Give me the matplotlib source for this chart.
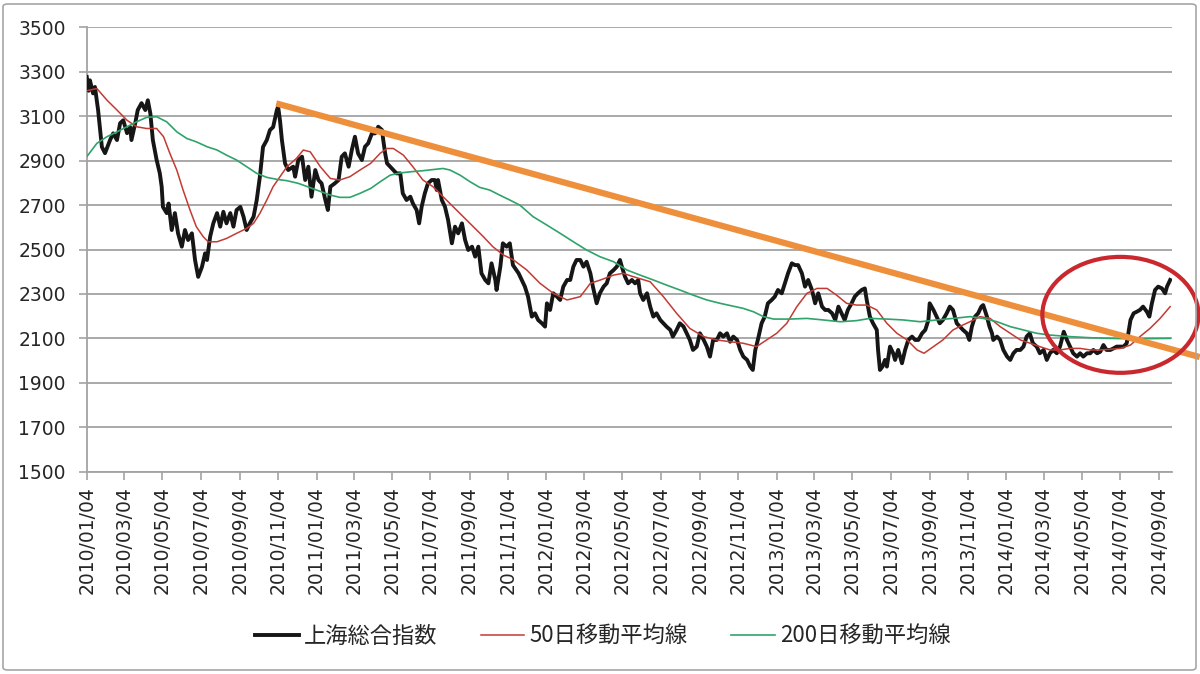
import matplotlib
matplotlib.use("Agg")
import matplotlib.pyplot as plt
import matplotlib.dates as mdates
from matplotlib.patches import Ellipse, FancyBboxPatch
from matplotlib.font_manager import FontProperties
import pandas as pd

# 上海総合指数 (読み取り値)
index_dates = [
    "2010-01-04", "2010-01-07", "2010-01-09", "2010-01-14", "2010-01-17", "2010-01-22", "2010-01-28",
    "2010-02-02", "2010-02-10", "2010-02-15", "2010-02-21", "2010-02-26", "2010-03-03", "2010-03-09",
    "2010-03-14", "2010-03-16", "2010-03-22", "2010-03-26", "2010-04-01", "2010-04-07", "2010-04-11",
    "2010-04-15", "2010-04-19", "2010-04-25", "2010-04-30", "2010-05-03", "2010-05-05", "2010-05-11",
    "2010-05-14", "2010-05-19", "2010-05-24", "2010-05-29", "2010-06-04", "2010-06-09", "2010-06-14",
    "2010-06-20", "2010-06-25", "2010-06-30", "2010-07-06", "2010-07-11", "2010-07-14", "2010-07-19",
    "2010-07-24", "2010-07-30", "2010-08-04", "2010-08-09", "2010-08-14", "2010-08-20", "2010-08-25",
    "2010-08-30", "2010-09-05", "2010-09-10", "2010-09-15", "2010-09-20", "2010-09-26", "2010-10-01",
    "2010-10-06", "2010-10-11", "2010-10-17", "2010-10-22", "2010-10-27", "2010-11-02", "2010-11-04",
    "2010-11-07", "2010-11-10", "2010-11-15", "2010-11-20", "2010-11-28", "2010-12-01", "2010-12-06",
    "2010-12-12", "2010-12-17", "2010-12-22", "2010-12-27",
    "2011-01-02", "2011-01-07", "2011-01-12", "2011-01-18", "2011-01-22", "2011-01-26", "2011-02-02",
    "2011-02-08", "2011-02-13", "2011-02-18", "2011-02-24", "2011-03-01", "2011-03-06", "2011-03-11",
    "2011-03-17", "2011-03-22", "2011-03-27", "2011-04-02", "2011-04-07", "2011-04-12", "2011-04-18",
    "2011-04-20", "2011-04-23", "2011-04-26", "2011-05-01", "2011-05-06", "2011-05-11", "2011-05-17",
    "2011-05-21", "2011-05-27", "2011-06-02", "2011-06-06", "2011-06-12", "2011-06-16", "2011-06-20",
    "2011-06-25", "2011-06-30", "2011-07-06", "2011-07-11", "2011-07-14", "2011-07-16", "2011-07-22",
    "2011-07-27", "2011-08-01", "2011-08-07", "2011-08-12", "2011-08-17", "2011-08-23", "2011-08-28",
    "2011-09-02", "2011-09-08", "2011-09-13", "2011-09-18", "2011-09-23", "2011-09-29", "2011-10-04",
    "2011-10-09", "2011-10-15", "2011-10-17", "2011-10-23", "2011-10-27", "2011-11-02", "2011-11-07",
    "2011-11-12", "2011-11-21", "2011-11-26", "2011-12-01", "2011-12-06", "2011-12-12", "2011-12-17",
    "2011-12-22", "2011-12-28",
    "2012-01-02", "2012-01-05", "2012-01-10", "2012-01-15", "2012-01-21", "2012-01-26", "2012-01-31",
    "2012-02-06", "2012-02-11", "2012-02-16", "2012-02-21", "2012-02-27", "2012-03-03", "2012-03-08",
    "2012-03-14", "2012-03-18", "2012-03-24", "2012-03-29", "2012-04-04", "2012-04-09", "2012-04-14",
    "2012-04-20", "2012-04-25", "2012-04-30", "2012-05-03", "2012-05-08", "2012-05-13", "2012-05-19",
    "2012-05-24", "2012-05-29", "2012-06-01", "2012-06-06", "2012-06-12", "2012-06-17", "2012-06-22",
    "2012-06-27", "2012-07-03", "2012-07-08", "2012-07-13", "2012-07-19", "2012-07-23", "2012-07-29",
    "2012-08-03", "2012-08-09", "2012-08-14", "2012-08-19", "2012-08-24", "2012-08-30", "2012-09-04",
    "2012-09-10", "2012-09-15", "2012-09-20", "2012-09-25", "2012-10-01", "2012-10-06", "2012-10-11",
    "2012-10-17", "2012-10-22", "2012-10-27", "2012-11-02", "2012-11-07", "2012-11-12", "2012-11-18",
    "2012-11-23", "2012-11-27", "2012-12-01", "2012-12-05", "2012-12-11", "2012-12-16", "2012-12-21",
    "2012-12-27",
    "2013-01-01", "2013-01-06", "2013-01-12", "2013-01-17", "2013-01-22", "2013-01-28", "2013-02-02",
    "2013-02-07", "2013-02-13", "2013-02-18", "2013-02-23", "2013-03-01", "2013-03-06", "2013-03-11",
    "2013-03-17", "2013-03-22", "2013-03-27", "2013-04-02", "2013-04-07", "2013-04-12", "2013-04-17",
    "2013-04-22", "2013-04-27", "2013-05-03", "2013-05-08", "2013-05-13", "2013-05-19", "2013-05-24",
    "2013-05-27", "2013-06-01", "2013-06-06", "2013-06-12", "2013-06-14", "2013-06-17", "2013-06-21",
    "2013-06-25", "2013-06-28", "2013-07-03", "2013-07-08", "2013-07-11", "2013-07-16", "2013-07-22",
    "2013-07-27", "2013-08-01", "2013-08-07", "2013-08-12", "2013-08-17", "2013-08-23", "2013-08-28",
    "2013-09-02", "2013-09-04", "2013-09-10", "2013-09-15", "2013-09-20", "2013-09-25", "2013-10-01",
    "2013-10-06", "2013-10-11", "2013-10-17", "2013-10-22", "2013-10-27", "2013-11-02", "2013-11-06",
    "2013-11-10", "2013-11-15", "2013-11-20", "2013-11-25", "2013-11-28", "2013-12-04", "2013-12-08",
    "2013-12-12", "2013-12-14", "2013-12-20", "2013-12-25", "2013-12-30",
    "2014-01-05", "2014-01-10", "2014-01-15", "2014-01-20", "2014-01-26", "2014-01-31", "2014-02-05",
    "2014-02-10", "2014-02-15", "2014-02-21", "2014-02-26", "2014-03-04", "2014-03-09", "2014-03-14",
    "2014-03-19", "2014-03-25", "2014-03-30", "2014-04-05", "2014-04-10", "2014-04-15", "2014-04-20",
    "2014-04-26", "2014-05-01", "2014-05-06", "2014-05-12", "2014-05-17", "2014-05-22", "2014-05-28",
    "2014-06-02", "2014-06-07", "2014-06-12", "2014-06-18", "2014-06-23", "2014-06-28", "2014-07-04",
    "2014-07-09", "2014-07-14", "2014-07-20", "2014-07-25", "2014-07-30", "2014-08-04", "2014-08-09",
    "2014-08-15", "2014-08-19", "2014-08-23", "2014-08-28", "2014-09-02", "2014-09-08", "2014-09-13",
    "2014-09-16", "2014-09-21",
]
index_values = [
    3277, 3215, 3262, 3203, 3232, 3128, 2962,
    2934, 2993, 3023, 2993, 3069, 3082, 3024,
    3051, 2993, 3069, 3128, 3159, 3128, 3172,
    3113, 2993, 2903, 2844, 2783, 2692, 2664,
    2707, 2588, 2664, 2573, 2513, 2588, 2543,
    2573, 2453, 2377, 2422, 2483, 2453, 2558,
    2618, 2664, 2603, 2670, 2618, 2664, 2603,
    2678, 2692, 2648, 2588, 2618, 2648, 2723,
    2828, 2962, 2993, 3038, 3051, 3128, 3143,
    3080, 2993, 2888, 2858, 2873, 2828, 2903,
    2918, 2813, 2873, 2738,
    2858, 2813, 2798, 2723, 2678, 2783, 2798,
    2813, 2918, 2933, 2873, 2948, 3008, 2933,
    2903, 2963, 2978, 3023, 3023, 3053, 3038,
    2993, 2933, 2888, 2873, 2858, 2843, 2843,
    2753, 2723, 2738, 2708, 2678, 2618, 2693,
    2753, 2798, 2813, 2813, 2768, 2813, 2723,
    2693, 2633, 2528, 2603, 2573, 2618, 2543,
    2498, 2513, 2468, 2513, 2393, 2363, 2348,
    2438, 2363, 2318, 2423, 2528, 2513, 2528,
    2430, 2393, 2363, 2333, 2288, 2198, 2213,
    2183, 2168,
    2153, 2258, 2228, 2303, 2288, 2273, 2333,
    2363, 2363, 2423, 2453, 2453, 2423, 2445,
    2393, 2333, 2258, 2303, 2333, 2348, 2393,
    2408, 2423, 2453, 2423, 2378, 2348, 2363,
    2348, 2363, 2303, 2273, 2303, 2243, 2198,
    2213, 2183, 2168, 2153, 2138, 2108, 2138,
    2168, 2153, 2123, 2093, 2048, 2063, 2123,
    2093, 2063, 2018, 2093, 2093, 2123, 2108,
    2123, 2085, 2108, 2093, 2048, 2018, 2003,
    1973, 1958, 2048, 2093, 2168, 2198, 2258,
    2273,
    2288, 2318, 2303, 2348, 2393, 2438, 2430,
    2430, 2393, 2333, 2363, 2318, 2258, 2303,
    2243, 2228, 2228, 2213, 2183, 2243, 2213,
    2183, 2228, 2258, 2288, 2303, 2318, 2325,
    2273, 2198, 2168, 2138, 2048, 1958, 1973,
    2003, 1973, 2063, 2033, 2003, 2048, 1988,
    2048, 2093, 2108, 2093, 2093, 2123, 2138,
    2183, 2258, 2228, 2198, 2168, 2183, 2213,
    2243, 2228, 2168, 2153, 2138, 2123, 2093,
    2153, 2198, 2213, 2243, 2250, 2198, 2153,
    2123, 2093, 2108, 2093, 2048,
    2018, 2003, 2033, 2048, 2048, 2063, 2108,
    2123, 2078, 2063, 2033, 2048, 2003, 2033,
    2048, 2033, 2063, 2130, 2093, 2063, 2033,
    2018, 2033, 2018, 2033, 2033, 2048, 2033,
    2040, 2070, 2048, 2048, 2055, 2063, 2063,
    2063, 2078, 2183, 2213, 2220, 2228, 2243,
    2220, 2198, 2258, 2318, 2333, 2325, 2303,
    2333, 2363,
]

# 50日移動平均線
ma50_dates = [
    "2010-01-04", "2010-01-20", "2010-02-05", "2010-02-21", "2010-03-09", "2010-03-24", "2010-04-09",
    "2010-04-25", "2010-05-06", "2010-05-16", "2010-05-27", "2010-06-06", "2010-06-17", "2010-06-27",
    "2010-07-08", "2010-07-16", "2010-07-30", "2010-08-14", "2010-08-30", "2010-09-15", "2010-09-26",
    "2010-10-06", "2010-10-17", "2010-10-27", "2010-11-07", "2010-11-18", "2010-12-03", "2010-12-14",
    "2010-12-25", "2011-01-10", "2011-01-26", "2011-02-10", "2011-02-26", "2011-03-14", "2011-03-31",
    "2011-04-15", "2011-04-26", "2011-05-06", "2011-05-22", "2011-06-06", "2011-06-22", "2011-07-08",
    "2011-07-24", "2011-08-09", "2011-08-25", "2011-09-10", "2011-09-26", "2011-10-11", "2011-10-28",
    "2011-11-12", "2011-12-04", "2011-12-25", "2012-01-15", "2012-02-06", "2012-02-27", "2012-03-14",
    "2012-03-30", "2012-04-20", "2012-05-05", "2012-05-21", "2012-06-17", "2012-07-08", "2012-07-29",
    "2012-08-19", "2012-09-10", "2012-10-01", "2012-10-22", "2012-11-12", "2012-12-03", "2012-12-19",
    "2013-01-04", "2013-01-20", "2013-02-05", "2013-02-21", "2013-03-09", "2013-03-25", "2013-04-09",
    "2013-04-25", "2013-05-11", "2013-05-27", "2013-06-12", "2013-06-28", "2013-07-14", "2013-07-30",
    "2013-08-15", "2013-08-26", "2013-09-10", "2013-09-25", "2013-10-11", "2013-10-25", "2013-11-07",
    "2013-11-23", "2013-12-09", "2013-12-25", "2014-01-10", "2014-01-26", "2014-02-11", "2014-02-26",
    "2014-03-14", "2014-03-30", "2014-04-15", "2014-05-01", "2014-05-17", "2014-06-02", "2014-06-18",
    "2014-07-04", "2014-07-20", "2014-08-04", "2014-08-20", "2014-09-05", "2014-09-21",
]
ma50_values = [
    3215, 3225, 3173, 3128, 3082, 3053, 3045,
    3045, 3008, 2933, 2858, 2768, 2678, 2603,
    2558, 2535, 2535, 2550, 2573, 2595, 2618,
    2663, 2723, 2783, 2828, 2873, 2910, 2948,
    2940, 2873, 2820, 2813, 2828, 2858, 2888,
    2933, 2955, 2955, 2925, 2873, 2813, 2783,
    2738, 2693, 2648, 2603, 2558, 2513, 2475,
    2455, 2408, 2348, 2303, 2273, 2288, 2348,
    2363, 2385, 2393, 2378, 2355, 2288, 2213,
    2145, 2108, 2093, 2085, 2078, 2063, 2093,
    2123, 2168, 2243, 2303, 2325, 2325, 2295,
    2258, 2250, 2250, 2228, 2168, 2123, 2093,
    2048, 2033, 2063, 2093, 2138, 2158, 2175,
    2198, 2190, 2153, 2123, 2093, 2078, 2063,
    2048, 2048, 2055, 2055, 2048, 2048, 2051,
    2055, 2070, 2108, 2145, 2190, 2243,
]

# 200日移動平均線
ma200_dates = [
    "2010-01-04", "2010-01-20", "2010-02-05", "2010-02-21", "2010-03-09", "2010-03-24", "2010-04-09",
    "2010-04-25", "2010-05-11", "2010-05-27", "2010-06-12", "2010-06-27", "2010-07-14", "2010-07-30",
    "2010-08-14", "2010-08-30", "2010-09-15", "2010-10-01", "2010-10-17", "2010-11-02", "2010-11-18",
    "2010-12-06", "2010-12-14", "2011-01-04", "2011-01-26", "2011-02-10", "2011-02-26", "2011-03-14",
    "2011-03-31", "2011-04-15", "2011-05-01", "2011-05-17", "2011-06-02", "2011-06-22", "2011-07-08",
    "2011-07-24", "2011-08-04", "2011-08-20", "2011-09-05", "2011-09-20", "2011-10-06", "2011-10-22",
    "2011-11-07", "2011-11-23", "2011-12-14", "2012-01-05", "2012-01-26", "2012-02-16", "2012-03-08",
    "2012-03-29", "2012-04-20", "2012-05-11", "2012-06-01", "2012-06-22", "2012-07-13", "2012-08-03",
    "2012-08-24", "2012-09-15", "2012-10-06", "2012-10-27", "2012-11-12", "2012-11-28", "2012-12-14",
    "2012-12-30", "2013-01-25", "2013-02-21", "2013-03-19", "2013-04-15", "2013-05-11", "2013-06-01",
    "2013-06-28", "2013-07-24", "2013-08-20", "2013-09-15", "2013-10-11", "2013-11-07", "2013-11-28",
    "2013-12-20", "2014-01-10", "2014-01-31", "2014-02-21", "2014-03-14", "2014-04-15", "2014-05-17",
    "2014-06-18", "2014-07-20", "2014-08-20", "2014-09-21",
]
ma200_values = [
    2918, 2978, 3008, 3030, 3053, 3075, 3095,
    3098, 3075, 3030, 3000, 2985, 2963, 2948,
    2925, 2903, 2873, 2843, 2825, 2816, 2810,
    2798, 2790, 2768, 2745, 2735, 2735, 2753,
    2775, 2805, 2835, 2845, 2850, 2855, 2860,
    2865, 2858, 2835, 2805, 2780, 2768, 2745,
    2723, 2700, 2648, 2610, 2573, 2535, 2498,
    2468, 2445, 2408, 2385, 2363, 2340, 2318,
    2295, 2273, 2258, 2245, 2235, 2220, 2198,
    2187, 2187, 2190, 2183, 2175, 2180, 2190,
    2187, 2183, 2175, 2183, 2190, 2198, 2190,
    2175, 2153, 2138, 2123, 2115, 2108, 2103,
    2100, 2098, 2099, 2100,
]

# 抵抗線 (オレンジ) と強調の楕円
trend_dates = ["2010-11-01", "2014-11-07"]
trend_values = [3158, 2016]
circle_date = "2014-07-04"
circle_value = 2206
circle_days = 248
circle_span = 522

tick_labels = [
    "2010/01/04", "2010/03/04", "2010/05/04", "2010/07/04", "2010/09/04", "2010/11/04",
    "2011/01/04", "2011/03/04", "2011/05/04", "2011/07/04", "2011/09/04", "2011/11/04",
    "2012/01/04", "2012/03/04", "2012/05/04", "2012/07/04", "2012/09/04", "2012/11/04",
    "2013/01/04", "2013/03/04", "2013/05/04", "2013/07/04", "2013/09/04", "2013/11/04",
    "2014/01/04", "2014/03/04", "2014/05/04", "2014/07/04", "2014/09/04",
]
y_ticks = [1500, 1700, 1900, 2100, 2300, 2500, 2700, 2900, 3100, 3300, 3500]
series_names = ["上海総合指数", "50日移動平均線", "200日移動平均線"]

grid_grey = "#A3A3A3"
text_col = "#262626"

fig = plt.figure(figsize=(12, 6.74), dpi=100)
ax = fig.add_axes([0.0723, 0.3002, 0.9044, 0.6591])

l1, = ax.plot(pd.to_datetime(index_dates), index_values, color="#161616", lw=2.8, zorder=3)
l2, = ax.plot(pd.to_datetime(ma50_dates), ma50_values, color="#C23B33", lw=1.1, zorder=4)
l3, = ax.plot(pd.to_datetime(ma200_dates), ma200_values, color="#2FA36A", lw=1.2, zorder=4)

ax.plot(pd.to_datetime(trend_dates), trend_values, color="#EE8F3C", lw=4.5,
        solid_capstyle="butt", clip_on=False, zorder=5)
ax.add_patch(Ellipse((mdates.date2num(pd.Timestamp(circle_date)), circle_value),
                     width=circle_days, height=circle_span, fill=False,
                     ec="#C8282E", lw=3, clip_on=False, zorder=6))

ax.set_xlim(pd.Timestamp("2010-01-04"), pd.Timestamp("2014-09-24"))
ax.set_ylim(1500, 3500)
ax.set_yticks(y_ticks)
ax.set_xticks(pd.to_datetime(tick_labels, format="%Y/%m/%d"))
ax.set_xticklabels(tick_labels, rotation=90)

ax.yaxis.grid(True, color=grid_grey, lw=1.3)
ax.set_axisbelow(True)
for side in ["top", "right"]:
    ax.spines[side].set_visible(False)
for side in ["left", "bottom"]:
    ax.spines[side].set_color(grid_grey)
    ax.spines[side].set_linewidth(1.3)

ax.tick_params(axis="x", length=5.5, width=1.2, color=grid_grey, pad=5,
               labelsize=13.5, labelcolor=text_col)
ax.tick_params(axis="y", length=6, width=1.2, color=grid_grey, pad=9,
               labelsize=13.5, labelcolor=text_col)

fig.legend([l1, l2, l3], series_names, loc="center", bbox_to_anchor=(0.5025, 1 - 636 / 674),
           ncol=3, frameon=False, handlelength=1.95, handletextpad=0.25, columnspacing=1.95,
           labelcolor=text_col,
           prop=FontProperties(family=["Noto Sans CJK JP", "DejaVu Sans"], size=16))

# グラフエリアの枠
fig.patches.append(FancyBboxPatch((3 / 1200, 4 / 674), 1193 / 1200, 666 / 674,
                                  boxstyle="round,pad=0,rounding_size=0.004",
                                  transform=fig.transFigure, fill=False,
                                  ec="#A6A6A6", lw=1.2))

fig.savefig("out.png", dpi=100)
